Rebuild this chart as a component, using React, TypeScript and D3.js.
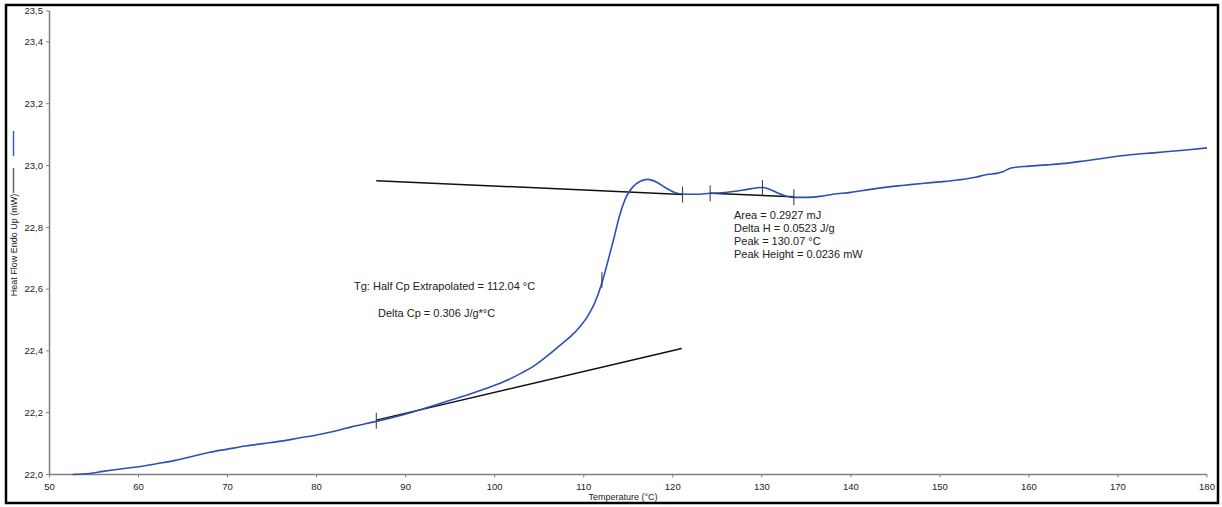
import * as d3 from "d3";

// DSC heat flow curve (Temperature °C, Heat Flow mW)
const temps = [
  52.6, 54.5, 56, 58, 60, 62, 64, 66, 68, 70, 72, 74, 76, 78, 80, 82, 84, 86.7,
  89, 91, 93, 95, 97, 99, 101, 103, 104.5, 106, 107.5, 108.5, 109.5, 110.5,
  111.2, 112.04, 112.6, 113.3, 114.1, 114.8, 115.5, 116.3, 117.2, 118.2, 119.2,
  120.2, 121.0, 122.5, 124.2, 125.5, 126.8, 128.2, 129.5, 130.1, 130.8, 131.5,
  132.3, 133.0, 133.6, 135.1, 136.5, 138, 140, 142, 144, 146, 148, 150, 152,
  154, 155, 157, 158, 160, 162, 163.7, 166, 168, 171.4, 174, 176, 178, 180,
];
const heatFlow = [
  22.0, 22.003, 22.01, 22.018, 22.025, 22.035, 22.045, 22.058, 22.072, 22.082,
  22.092, 22.1, 22.108, 22.118, 22.128, 22.14, 22.155, 22.172, 22.188, 22.204,
  22.222, 22.24, 22.258, 22.278, 22.3, 22.328, 22.353, 22.386, 22.422, 22.446,
  22.476, 22.515, 22.553, 22.62, 22.678, 22.755, 22.845, 22.9, 22.93, 22.948,
  22.955, 22.946, 22.928, 22.913, 22.908, 22.907, 22.91, 22.912, 22.916,
  22.922, 22.928, 22.929, 22.924, 22.915, 22.905, 22.899, 22.897, 22.897,
  22.9, 22.907, 22.913, 22.922, 22.93, 22.936, 22.942, 22.947, 22.953,
  22.962, 22.969, 22.979, 22.992, 22.998, 23.002, 23.006, 23.014, 23.022,
  23.035, 23.041, 23.046, 23.051, 23.057,
];

// construction lines: [t0, v0, t1, v1]
const tgUpperLine = [86.7, 22.951, 121.1, 22.906];
const tgLowerLine = [86.7, 22.176, 121.0, 22.408];
const peakBaseline = [124.2, 22.91, 133.6, 22.899];

// event markers on the curve
const markerTemps = [86.7, 112.04, 121.1, 124.2, 130.07, 133.6];
const markerValues = [22.174, 22.63, 22.906, 22.91, 22.927, 22.897];

const xTicks = d3.range(50, 181, 10);
const yTicks = [22.0, 22.2, 22.4, 22.6, 22.8, 23.0, 23.2, 23.4, 23.5];

const peakLabels = [
  "Area = 0.2927 mJ",
  "Delta H = 0.0523 J/g",
  "Peak = 130.07 °C",
  "Peak Height = 0.0236 mW",
];
const tgLabels = ["Tg: Half Cp Extrapolated = 112.04 °C", "Delta Cp = 0.306 J/g*°C"];

const W = 1222;
const H = 507;

export default function App() {
  const x = d3.scaleLinear().domain([50, 180]).range([49.5, 1207]);
  const y = d3.scaleLinear().domain([22, 23.5]).range([474.5, 11]);

  const pts = temps.map((t, i) => [t, heatFlow[i]] as [number, number]);
  const line = d3
    .line<[number, number]>()
    .x((d) => x(d[0]))
    .y((d) => y(d[1]))
    .curve(d3.curveMonotoneX);

  const seg = (s: number[]) => (
    <line x1={x(s[0])} y1={y(s[1])} x2={x(s[2])} y2={y(s[3])} stroke="#111" strokeWidth={1.5} />
  );

  const fmt = (v: number) => d3.format(".1f")(v).replace(".", ",");
  const font = "'Liberation Sans', Arial, sans-serif";
  const axisColor = "#808080";

  return (
    <svg
      width={W}
      height={H}
      style={{ position: "absolute", left: 0, top: 0, background: "#fff" }}
      fontFamily={font}
    >
      <rect x={6} y={5} width={1212} height={498} fill="#fff" stroke="#000" strokeWidth={2.5} />

      {/* y axis */}
      <line x1={49.5} x2={49.5} y1={y(23.5)} y2={y(22)} stroke={axisColor} strokeWidth={1.5} />
      {yTicks.map((v) => (
        <g key={v}>
          <line x1={46} x2={49.5} y1={y(v)} y2={y(v)} stroke={axisColor} />
          <text x={43} y={y(v)} dy="0.35em" textAnchor="end" fontSize={9.5} fill="#222">
            {fmt(v)}
          </text>
        </g>
      ))}

      {/* x axis */}
      <line x1={49.5} x2={x(180)} y1={y(22)} y2={y(22)} stroke={axisColor} strokeWidth={1.5} />
      {xTicks.map((t) => (
        <g key={t}>
          <line x1={x(t)} x2={x(t)} y1={y(22)} y2={y(22) + 3} stroke={axisColor} />
          <text x={x(t)} y={490} textAnchor="middle" fontSize={9.5} fill="#222">
            {t}
          </text>
        </g>
      ))}
      <text x={623} y={500} textAnchor="middle" fontSize={9} fill="#222">
        Temperature (°C)
      </text>

      {/* y label and legend swatches */}
      <text
        transform="translate(17,245) rotate(-90)"
        textAnchor="middle"
        fontSize={9}
        fill="#222"
      >
        Heat Flow Endo Up (mW)
      </text>
      <line x1={13.5} x2={13.5} y1={131} y2={156} stroke="#3a5cc0" strokeWidth={1.5} />
      <line x1={13.5} x2={13.5} y1={168} y2={193} stroke="#666" strokeWidth={1.5} />

      {/* construction lines */}
      {seg(tgUpperLine)}
      {seg(tgLowerLine)}
      {seg(peakBaseline)}

      {/* curve */}
      <path d={line(pts) ?? ""} fill="none" stroke="#2d50b2" strokeWidth={1.6} />

      {/* markers */}
      {markerTemps.map((t, i) => (
        <line
          key={t}
          x1={x(t)}
          x2={x(t)}
          y1={y(markerValues[i]) - 8}
          y2={y(markerValues[i]) + 8}
          stroke="#333"
          strokeWidth={1}
        />
      ))}

      {/* annotations */}
      {peakLabels.map((s, i) => (
        <text key={s} x={734} y={219 + i * 13} fontSize={11} fill="#222">
          {s}
        </text>
      ))}
      <text x={354} y={290} fontSize={11} fill="#222">
        {tgLabels[0]}
      </text>
      <text x={378} y={317} fontSize={11} fill="#222">
        {tgLabels[1]}
      </text>
    </svg>
  );
}
